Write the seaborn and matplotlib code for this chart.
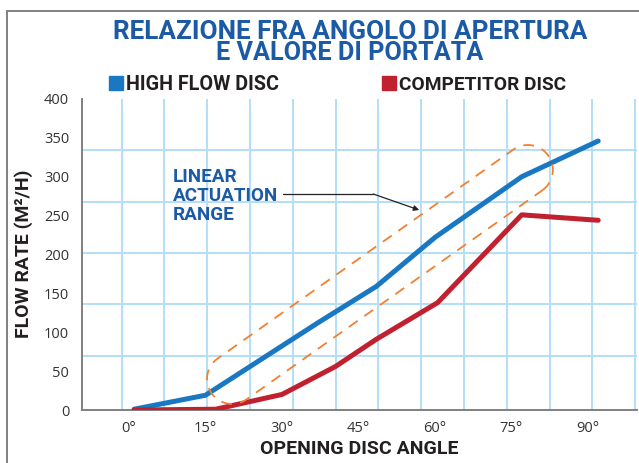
import numpy as np
import matplotlib
matplotlib.use('Agg')
import matplotlib.pyplot as plt
import matplotlib.font_manager as fm
from matplotlib.patches import Rectangle
import seaborn as sns
import pandas as pd

# data
blue_angle = [1, 15, 37, 48.5, 60, 77, 92]
blue_flow = [1, 19, 112, 159, 222, 300, 346]
red_angle = [1, 17, 30, 40.5, 48.5, 60.5, 77, 92]
red_flow = [0, 1, 20, 56, 91, 138, 251, 244]

x_ticks = [0, 15, 30, 45, 60, 75, 90]
x_labels = ['0°', '15°', '30°', '45°', '60°', '75°', '90°']
y_ticks = [0, 50, 100, 150, 200, 250, 300, 350, 400]
h_grid = [70, 136, 202, 268, 334, 400]

title_1 = 'RELAZIONE FRA ANGOLO DI APERTURA'
title_2 = 'E VALORE DI PORTATA'
legend_names = ['HIGH FLOW DISC', 'COMPETITOR DISC']
note_lines = ['LINEAR', 'ACTUATION', 'RANGE']

BLUE = '#1a78c2'
DARKBLUE = '#1b5aa5'
RED = '#c1202f'
ORANGE = '#f28030'
GRID = '#b3dff6'
INK = '#231f20'

sns.set_style('white')
names = {f.name for f in fm.fontManager.ttflist}
BOLD = [f for f in ['Roboto', 'Lato'] if f in names] + ['DejaVu Sans']
REG = [f for f in ['Open Sans'] if f in names] + ['DejaVu Sans']
plt.rcParams['font.family'] = REG

df = pd.concat([
    pd.DataFrame({'angle': blue_angle, 'flow': blue_flow, 'disc': legend_names[0]}),
    pd.DataFrame({'angle': red_angle, 'flow': red_flow, 'disc': legend_names[1]}),
])

fig = plt.figure(figsize=(6.39, 4.63), dpi=100)
ax = fig.add_axes([81.7 / 639, 1 - 410 / 463, (637 - 81.7) / 639, (410 - 99) / 463])

ax.set_xlim((81.7 - 129) / 5.1, (637 - 129) / 5.1)
ax.set_ylim(0, 400)

# grid
ax.set_xticks(np.arange(13) * 8.39 - 1.43, minor=True)
ax.set_yticks(h_grid, minor=True)
ax.grid(which='minor', color=GRID, lw=1.4)
ax.grid(which='major', visible=False)
ax.set_axisbelow(True)

sns.lineplot(data=df, x='angle', y='flow', hue='disc', palette=[BLUE, RED],
             sort=False, lw=3.6, legend=False, ax=ax, zorder=3)

ax.set_xticks(x_ticks)
ax.set_xticklabels(x_labels)
ax.set_yticks(y_ticks)
ax.tick_params(which='both', length=0, labelsize=10.5, colors='#333333', pad=8)
ax.tick_params(axis='y', pad=9)

for s in ['top', 'right']:
    ax.spines[s].set_visible(False)
for s in ['left', 'bottom']:
    ax.spines[s].set_color('#808080')
    ax.spines[s].set_linewidth(1.4)

xl = ax.set_xlabel('OPENING DISC ANGLE', fontsize=13, fontweight='bold', color=INK, family=BOLD)
yl = ax.set_ylabel('FLOW RATE (M²/H)', fontsize=13, fontweight='bold', color=INK, family=BOLD)
ax.xaxis.set_label_coords(0.4994, -0.097)
ax.yaxis.set_label_coords(-0.087, 0.5016)

# dashed stadium around the linear range (built in display space)
fig.canvas.draw()
c1 = ax.transData.transform((20.2, 39.9))
c2 = ax.transData.transform((78.2, 308.7))
u = (c2 - c1) / np.linalg.norm(c2 - c1)
r = 25
ang = np.arctan2(u[1], u[0])
t1 = np.linspace(-np.pi / 2, np.pi / 2, 30) + ang
t2 = np.linspace(np.pi / 2, 3 * np.pi / 2, 30) + ang
pts = np.vstack([
    c2 + r * np.column_stack([np.cos(t1), np.sin(t1)]),
    c1 + r * np.column_stack([np.cos(t2), np.sin(t2)]),
])
pts = np.vstack([pts, pts[:1]])
pts = ax.transData.inverted().transform(pts)
ax.plot(pts[:, 0], pts[:, 1], color=ORANGE, lw=1.3, dashes=(6, 4.5), zorder=4)

texts = []  # (text, target width in px)
note_texts = []
for line, base_px in zip(note_lines, [182, 201, 220]):
    t = ax.text(8.6, (410 - base_px) / 0.7775, line, fontsize=14, fontweight='bold',
                color=DARKBLUE, ha='left', va='baseline', family=BOLD)
    note_texts.append(t)
note_w = 105.6

ax.plot([30.25, 47.9], [277.8, 277.8], color='#222222', lw=0.9)
ax.annotate('', xy=(56.9, 257.2), xytext=(47.9, 277.8),
            arrowprops=dict(arrowstyle='-|>', color='#222222', lw=0.9,
                            mutation_scale=8, shrinkA=0, shrinkB=0))

# titles
t1_ = fig.text(350 / 639, 1 - 39.3 / 463, title_1, ha='center', va='baseline',
               fontsize=19, fontweight='bold', color=DARKBLUE, family=BOLD)
t2_ = fig.text(350 / 639, 1 - 60 / 463, title_2, ha='center', va='baseline',
               fontsize=19, fontweight='bold', color=DARKBLUE, family=BOLD)
texts += [(t1_, 474), (t2_, 267)]

# legend
for x0, col, name, w in [(108.5, BLUE, legend_names[0], 153.5), (381.5, RED, legend_names[1], 167)]:
    fig.patches.append(Rectangle((x0 / 639, 1 - 90.3 / 463), 14 / 639, 14 / 463,
                                 transform=fig.transFigure, color=col))
    lt = fig.text((x0 + 17.5) / 639, 1 - 90.3 / 463, name, ha='left', va='baseline',
                  fontsize=13.5, fontweight='bold', color=INK, family=BOLD)
    texts.append((lt, w))
texts += [(xl, 196.5), (yl, 168)]

# scale font sizes so each text spans the width seen in the reference
renderer = fig.canvas.get_renderer()
for t, w in texts:
    bb = t.get_window_extent(renderer)
    t.set_fontsize(t.get_fontsize() * w / max(bb.width, bb.height))
scale = note_w / note_texts[1].get_window_extent(renderer).width
for t in note_texts:
    t.set_fontsize(t.get_fontsize() * scale)

# outer frame
fig.patches.append(Rectangle((7.3 / 639, -0.5), 2, 0.5 + 1 - 10.7 / 463,
                             transform=fig.transFigure, fill=False,
                             edgecolor='#808080', lw=1.4))

fig.savefig('out.png', dpi=100)
